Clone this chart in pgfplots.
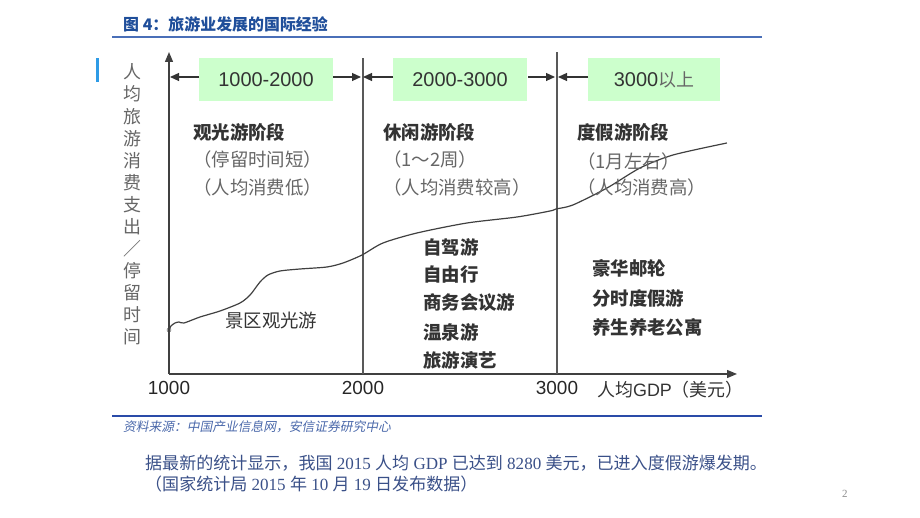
\documentclass[border=0pt]{standalone}
\usepackage{fontspec}
\usepackage{pgfplots}
\pgfplotsset{compat=1.18}
\usetikzlibrary{arrows.meta}
\setmainfont{Liberation Sans}
\newfontfamily\cjk{Noto Sans CJK SC}
\newfontfamily\cjkit[FakeSlant=0.2]{Noto Sans CJK SC}
\newfontfamily\tnr{Liberation Serif}
\definecolor{titleblue}{HTML}{1F4E9A}
\definecolor{ruleblue}{HTML}{4A6FB8}
\definecolor{rule2}{HTML}{2A4BA8}
\definecolor{srcblue}{HTML}{4A68AA}
\definecolor{bodyblue}{HTML}{3A5088}
\definecolor{boxgreen}{HTML}{CCFFCC}
\definecolor{darktxt}{HTML}{333333}
\definecolor{midtxt}{HTML}{666666}
\definecolor{barblue}{HTML}{2E9BE6}
\begin{document}
\begin{tikzpicture}
\useasboundingbox (0,0) rectangle (920bp,518bp);
\begin{axis}[at={(169bp,144bp)}, anchor=south west, scale only axis,
  width=568bp, height=322bp, xmin=1000, xmax=3928, ymin=0, ymax=322,
  axis x line=bottom, axis y line=left,
  axis line style={line width=1.3bp, draw=black!75, -{Triangle[length=10bp,width=8bp]}},
  xtick={1000,2000,3000}, xticklabels={1000,2000,3000}, ytick=\empty, major tick length=0,
  /pgf/number format/assume math mode=true,
  xticklabel style={font=\fontsize{19}{19}\selectfont, text=black!85, yshift=-4bp},
  clip=false]
\draw[line width=1.1bp, black!65] (axis cs:2000,0) -- (axis cs:2000,316);
\draw[line width=1.1bp, black!65] (axis cs:3000,0) -- (axis cs:3000,322);
\addplot[smooth, tension=0.45, line width=1.2bp, black!75] coordinates {
(1000,44) (1010,48) (1031,51) (1052,52) (1077,51) (1160,57) (1263,63)
(1366,71) (1418,79) (1469,92) (1510,99) (1572,103) (1675,105) (1814,107)
(1897,111) (1995,119) (2103,131) (2278,141) (2536,151) (2794,157)
(2964,163) (2995,165) (3082,169) (3258,186) (3428,206) (3598,219) (3876,231)};
\addplot[only marks, mark=o, mark size=2bp, black!75] coordinates {(1000,44)};
\end{axis}
\begin{scope}[x=1bp,y=-1bp,yshift=518bp]
% title
\node[anchor=west, inner sep=0, text=titleblue, font=\cjk\bfseries\fontsize{16}{16}\selectfont] at (123,24) {图 4：旅游业发展的国际经验};
\draw[ruleblue, line width=1.6bp] (112,37) -- (762,37);
\fill[barblue] (96,58) rectangle (98.5,82);
% boxes
\fill[boxgreen] (199,58) rectangle (333,101);
\fill[boxgreen] (393,58) rectangle (527,101);
\fill[boxgreen] (588,58) rectangle (720,101);
\node[text=darktxt, font=\fontsize{20}{20}\selectfont] at (266,80) {1000-2000};
\node[text=darktxt, font=\fontsize{20}{20}\selectfont] at (460,80) {2000-3000};
\node[text=darktxt, font=\fontsize{20}{20}\selectfont] at (654,80) {3000{\cjk\color{midtxt}\fontsize{18}{18}\selectfont 以上}};
% arrows
\begin{scope}[line width=1.2bp, black!80, -{Triangle[length=9bp,width=8bp]}]
\draw (199,77) -- (170,77);
\draw (333,77) -- (361,77);
\draw (393,77) -- (363,77);
\draw (528,77) -- (555,77);
\draw (588,77) -- (558,77);
\end{scope}
% y label
\foreach \c [count=\i from 0] in {人,均,旅,游,消,费,支,出,／,停,留,时,间}
  \node[text=midtxt, font=\cjk\fontsize{18}{18}\selectfont] at (132,{72+22.1*\i}) {\c};
% x label
\node[anchor=west, inner sep=0, text=darktxt, font=\fontsize{18}{18}\selectfont] at (597,390) {{\cjk 人均}GDP{\cjk （美元）}};
% stage texts
\begin{scope}[every node/.style={anchor=west, inner sep=0}]
\node[text=darktxt, font=\cjk\bfseries\fontsize{18.5}{18.5}\selectfont] at (193,132) {观光游阶段};
\node[text=midtxt, font=\cjk\fontsize{18.5}{18.5}\selectfont] at (193,160) {（停留时间短）};
\node[text=midtxt, font=\cjk\fontsize{18.5}{18.5}\selectfont] at (193,188) {（人均消费低）};
\node[text=darktxt, font=\cjk\bfseries\fontsize{18.5}{18.5}\selectfont] at (383,132) {休闲游阶段};
\node[text=midtxt, font=\cjk\fontsize{18.5}{18.5}\selectfont] at (383,160) {（1～2周）};
\node[text=midtxt, font=\cjk\fontsize{18.5}{18.5}\selectfont] at (383,188) {（人均消费较高）};
\node[text=darktxt, font=\cjk\bfseries\fontsize{18.5}{18.5}\selectfont] at (577,132) {度假游阶段};
\node[text=midtxt, font=\cjk\fontsize{18.5}{18.5}\selectfont] at (577,162) {（1月左右）};
\node[text=midtxt, font=\cjk\fontsize{18.5}{18.5}\selectfont] at (577,188) {（人均消费高）};
\node[text=darktxt, font=\cjk\fontsize{18.5}{18.5}\selectfont] at (225,320) {景区观光游};
\node[text=darktxt, font=\cjk\bfseries\fontsize{18.5}{18.5}\selectfont] at (423,247) {自驾游};
\node[text=darktxt, font=\cjk\bfseries\fontsize{18.5}{18.5}\selectfont] at (423,275) {自由行};
\node[text=darktxt, font=\cjk\bfseries\fontsize{18.5}{18.5}\selectfont] at (423,303) {商务会议游};
\node[text=darktxt, font=\cjk\bfseries\fontsize{18.5}{18.5}\selectfont] at (423,332) {温泉游};
\node[text=darktxt, font=\cjk\bfseries\fontsize{18.5}{18.5}\selectfont] at (423,360) {旅游演艺};
\node[text=darktxt, font=\cjk\bfseries\fontsize{18.5}{18.5}\selectfont] at (592,268) {豪华邮轮};
\node[text=darktxt, font=\cjk\bfseries\fontsize{18.5}{18.5}\selectfont] at (592,298) {分时度假游};
\node[text=darktxt, font=\cjk\bfseries\fontsize{18.5}{18.5}\selectfont] at (592,327) {养生养老公寓};
% bottom
\draw[rule2, line width=1.3bp] (112,416) -- (762,416);
\node[text=srcblue, font=\cjkit\fontsize{12.8}{12.8}\selectfont] at (123,427) {资料来源：中国产业信息网，安信证券研究中心};
\node[text=bodyblue, font=\tnr\fontsize{17.1}{17.1}\selectfont] at (145,463) {{\cjk 据最新的统计显示，我国} 2015 {\cjk 人均} GDP {\cjk 已达到} 8280 {\cjk 美元，已进入度假游爆发期。}};
\node[text=bodyblue, font=\tnr\fontsize{17.1}{17.1}\selectfont] at (145,484) {{\cjk （国家统计局} 2015 {\cjk 年} 10 {\cjk 月} 19 {\cjk 日发布数据）}};
\node[text=black!45, font=\tnr\fontsize{11}{11}\selectfont] at (842,494) {2};
\end{scope}
\end{scope}
\end{tikzpicture}
\end{document}
